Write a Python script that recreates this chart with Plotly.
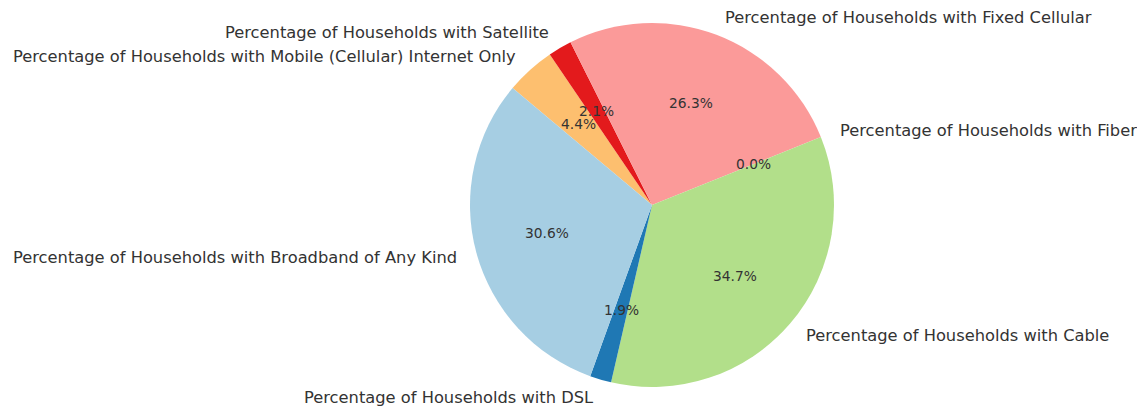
import numpy as np
import plotly.graph_objects as go

categories = [
    "Percentage of Households with Broadband of Any Kind",
    "Percentage of Households with DSL",
    "Percentage of Households with Cable",
    "Percentage of Households with Fiber",
    "Percentage of Households with Fixed Cellular",
    "Percentage of Households with Satellite",
    "Percentage of Households with Mobile (Cellular) Internet Only",
]
values = [30.6, 1.9, 34.7, 0.0, 26.3, 2.1, 4.4]
colors = ["#a6cee3", "#1f78b4", "#b2df8a", "#33a02c", "#fb9a99", "#e31a1c", "#fdbf6f"]

W, H = 1137, 406
START_ANGLE = 140.0  # degrees, counterclockwise from 3 o'clock
CX, CY, R = 652, 205, 182  # pixels

fig = go.Figure()
# Plotly's counterclockwise mode anchors the END of the first slice at the rotation,
# so draw clockwise with reversed order to start the first slice at START_ANGLE.
fig.add_trace(go.Pie(
    labels=categories[::-1],
    values=values[::-1],
    sort=False,
    direction="clockwise",
    rotation=90 - START_ANGLE,
    marker=dict(colors=colors[::-1], line=dict(width=0)),
    textinfo="none",
    hoverinfo="label+percent",
    showlegend=False,
    domain=dict(x=[(CX - R) / W, (CX + R) / W], y=[1 - (CY + R) / H, 1 - (CY - R) / H]),
))

total = sum(values)
cum = START_ANGLE
font_label = dict(family="DejaVu Sans", size=16.3, color="#333333")
font_pct = dict(family="DejaVu Sans", size=13.8, color="#333333")
for lab, v in zip(categories, values):
    span = 360.0 * v / total
    mid = np.deg2rad(cum + span / 2)
    cum += span
    c, s = np.cos(mid), np.sin(mid)
    lx = (CX + 1.1 * R * c) / W
    ly = 1 - (CY - 1.1 * R * s) / H
    fig.add_annotation(x=lx, y=ly, xref="paper", yref="paper", text=lab,
                       showarrow=False, xanchor="left" if c > 0 else "right",
                       yanchor="middle", font=font_label)
    px_ = (CX + 0.6 * R * c) / W
    py_ = 1 - (CY - 0.6 * R * s) / H
    fig.add_annotation(x=px_, y=py_, xref="paper", yref="paper",
                       text=f"{100 * v / total:.1f}%", showarrow=False,
                       xanchor="center", yanchor="middle", font=font_pct)

fig.update_layout(
    width=W, height=H,
    margin=dict(l=0, r=0, t=0, b=0),
    paper_bgcolor="white", plot_bgcolor="white",
)
fig.write_html("out.html", config={"displayModeBar": False},
               post_script="document.body.style.margin='0';")
